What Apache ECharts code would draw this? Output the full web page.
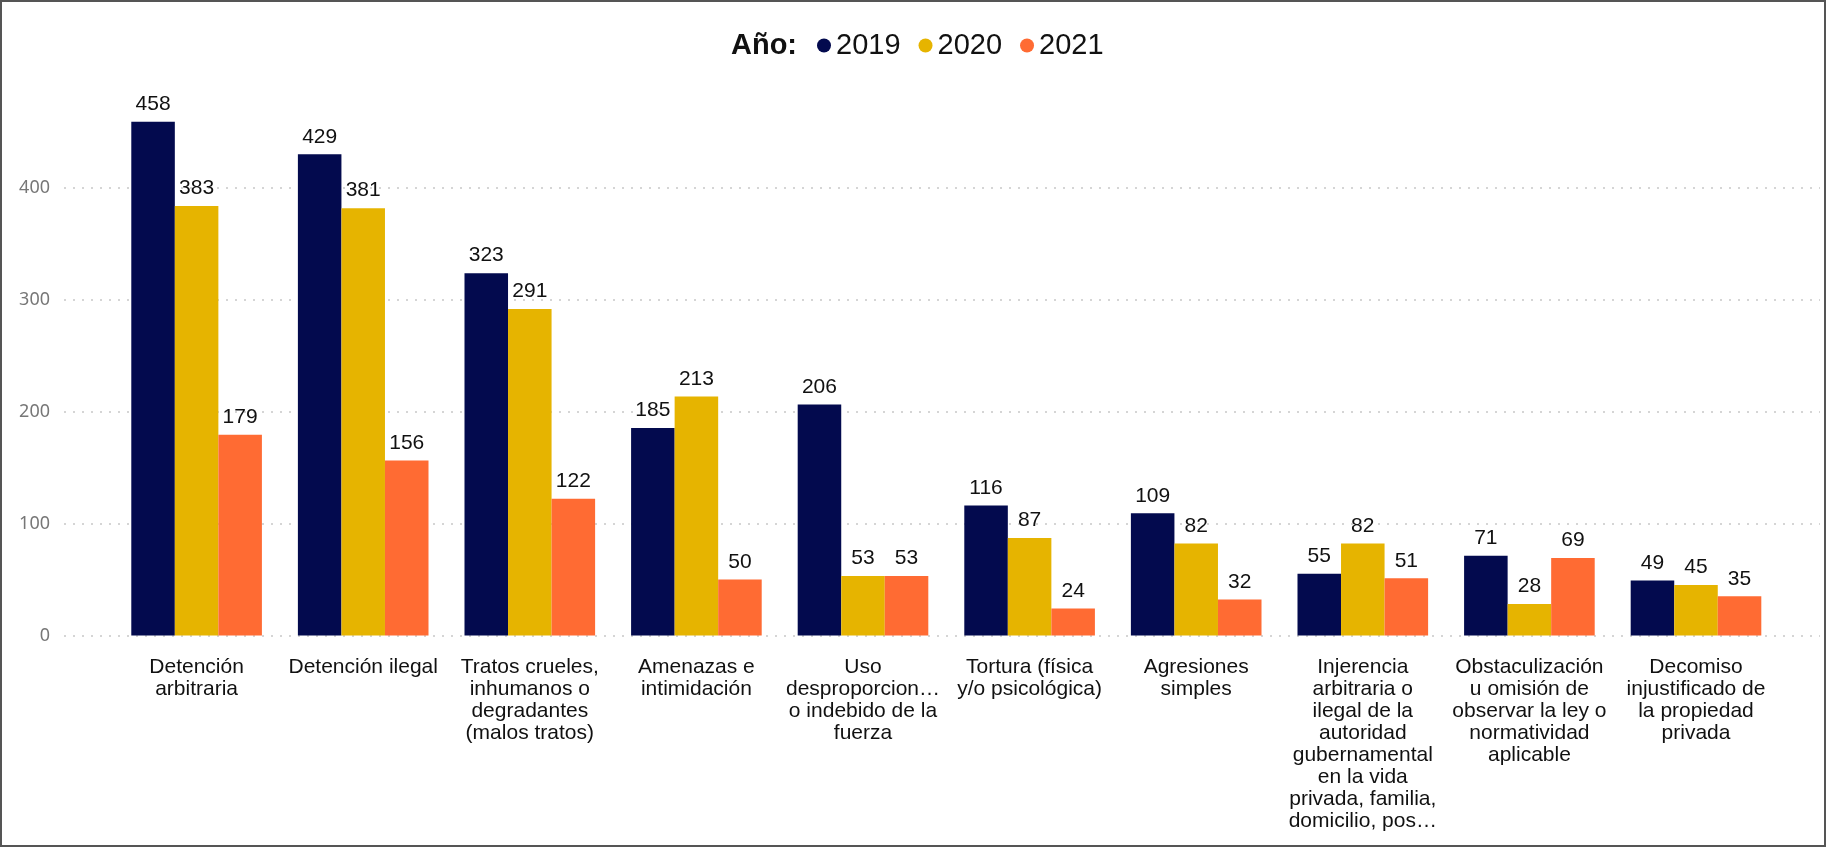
<!DOCTYPE html>
<html><head><meta charset="utf-8">
<script src="https://cdn.jsdelivr.net/npm/echarts@6/dist/echarts.min.js"></script>
<style>html,body{margin:0;padding:0;background:#fff}#c{width:1826px;height:847px;box-sizing:border-box;border:2px solid #555}</style>
</head><body><div id="c"></div>
<script>
const categories = [
  "Detención\narbitraria",
  "Detención ilegal",
  "Tratos crueles,\ninhumanos o\ndegradantes\n(malos tratos)",
  "Amenazas e\nintimidación",
  "Uso\ndesproporcion…\no indebido de la\nfuerza",
  "Tortura (física\ny/o psicológica)",
  "Agresiones\nsimples",
  "Injerencia\narbitraria o\nilegal de la\nautoridad\ngubernamental\nen la vida\nprivada, familia,\ndomicilio, pos…",
  "Obstaculización\nu omisión de\nobservar la ley o\nnormatividad\naplicable",
  "Decomiso\ninjustificado de\nla propiedad\nprivada"
];
const years = ["2019", "2020", "2021"];
const v2019 = [458, 429, 323, 185, 206, 116, 109, 55, 71, 49];
const v2020 = [383, 381, 291, 213, 53, 87, 82, 82, 28, 45];
const v2021 = [179, 156, 122, 50, 53, 24, 32, 51, 69, 35];
const yTicks = [0, 100, 200, 300, 400];

const colors = ["#030A4E", "#E6B400", "#FF6B33"];
const font = "'Liberation Sans', Arial, sans-serif";
const chart = echarts.init(document.getElementById('c'));
const zeroY = 637.5, pxPerUnit = 1.13;
const gBottom = 847 - zeroY;
const yMaxBars = 480, yMaxGrid = 400;
const mk = (name, data, i) => ({
  name, type: 'bar', data, xAxisIndex: 1, yAxisIndex: 1,
  barGap: '0%', barCategoryGap: '21.6%',
  itemStyle: {color: colors[i]},
  label: {show: true, position: 'top', distance: 7, color: '#111', fontSize: 21, fontFamily: font}
});
chart.setOption({
  animation: false,
  title: {text: 'Año:', left: 729, top: 29, padding: 0, textStyle: {fontSize: 29, fontWeight: 'bold', color: '#111', fontFamily: font}},
  legend: {left: 815, top: 29, padding: 0, icon: 'circle', itemWidth: 14, itemHeight: 14, itemGap: 18,
    data: years, textStyle: {fontSize: 29, color: '#111', fontFamily: font}},
  grid: [
    {left: 62, right: 4, top: zeroY - yMaxGrid * pxPerUnit, bottom: gBottom},
    {left: 111.3, right: 44.7, top: zeroY - yMaxBars * pxPerUnit, bottom: gBottom}
  ],
  xAxis: [
    {type: 'category', gridIndex: 0, data: categories, show: false},
    {type: 'category', gridIndex: 1, data: categories,
      axisLine: {show: false}, axisTick: {show: false},
      axisLabel: {interval: 0, fontSize: 21, lineHeight: 22, color: '#111', fontFamily: font, margin: 21}}
  ],
  yAxis: [
    {type: 'value', gridIndex: 0, min: 0, max: yMaxGrid, interval: 100,
      axisLine: {show: false}, axisTick: {show: false},
      axisLabel: {color: '#777', fontSize: 18, fontFamily: "'Noto Sans', sans-serif", margin: 14,
        formatter: v => yTicks.includes(v) ? String(v) : ''},
      splitLine: {lineStyle: {type: [2, 7], color: '#c8c8c8', width: 1.5}}},
    {type: 'value', gridIndex: 1, min: 0, max: yMaxBars, interval: 100, show: false, splitLine: {show: false}}
  ],
  series: [mk(years[0], v2019, 0), mk(years[1], v2020, 1), mk(years[2], v2021, 2)]
});
</script></body></html>
